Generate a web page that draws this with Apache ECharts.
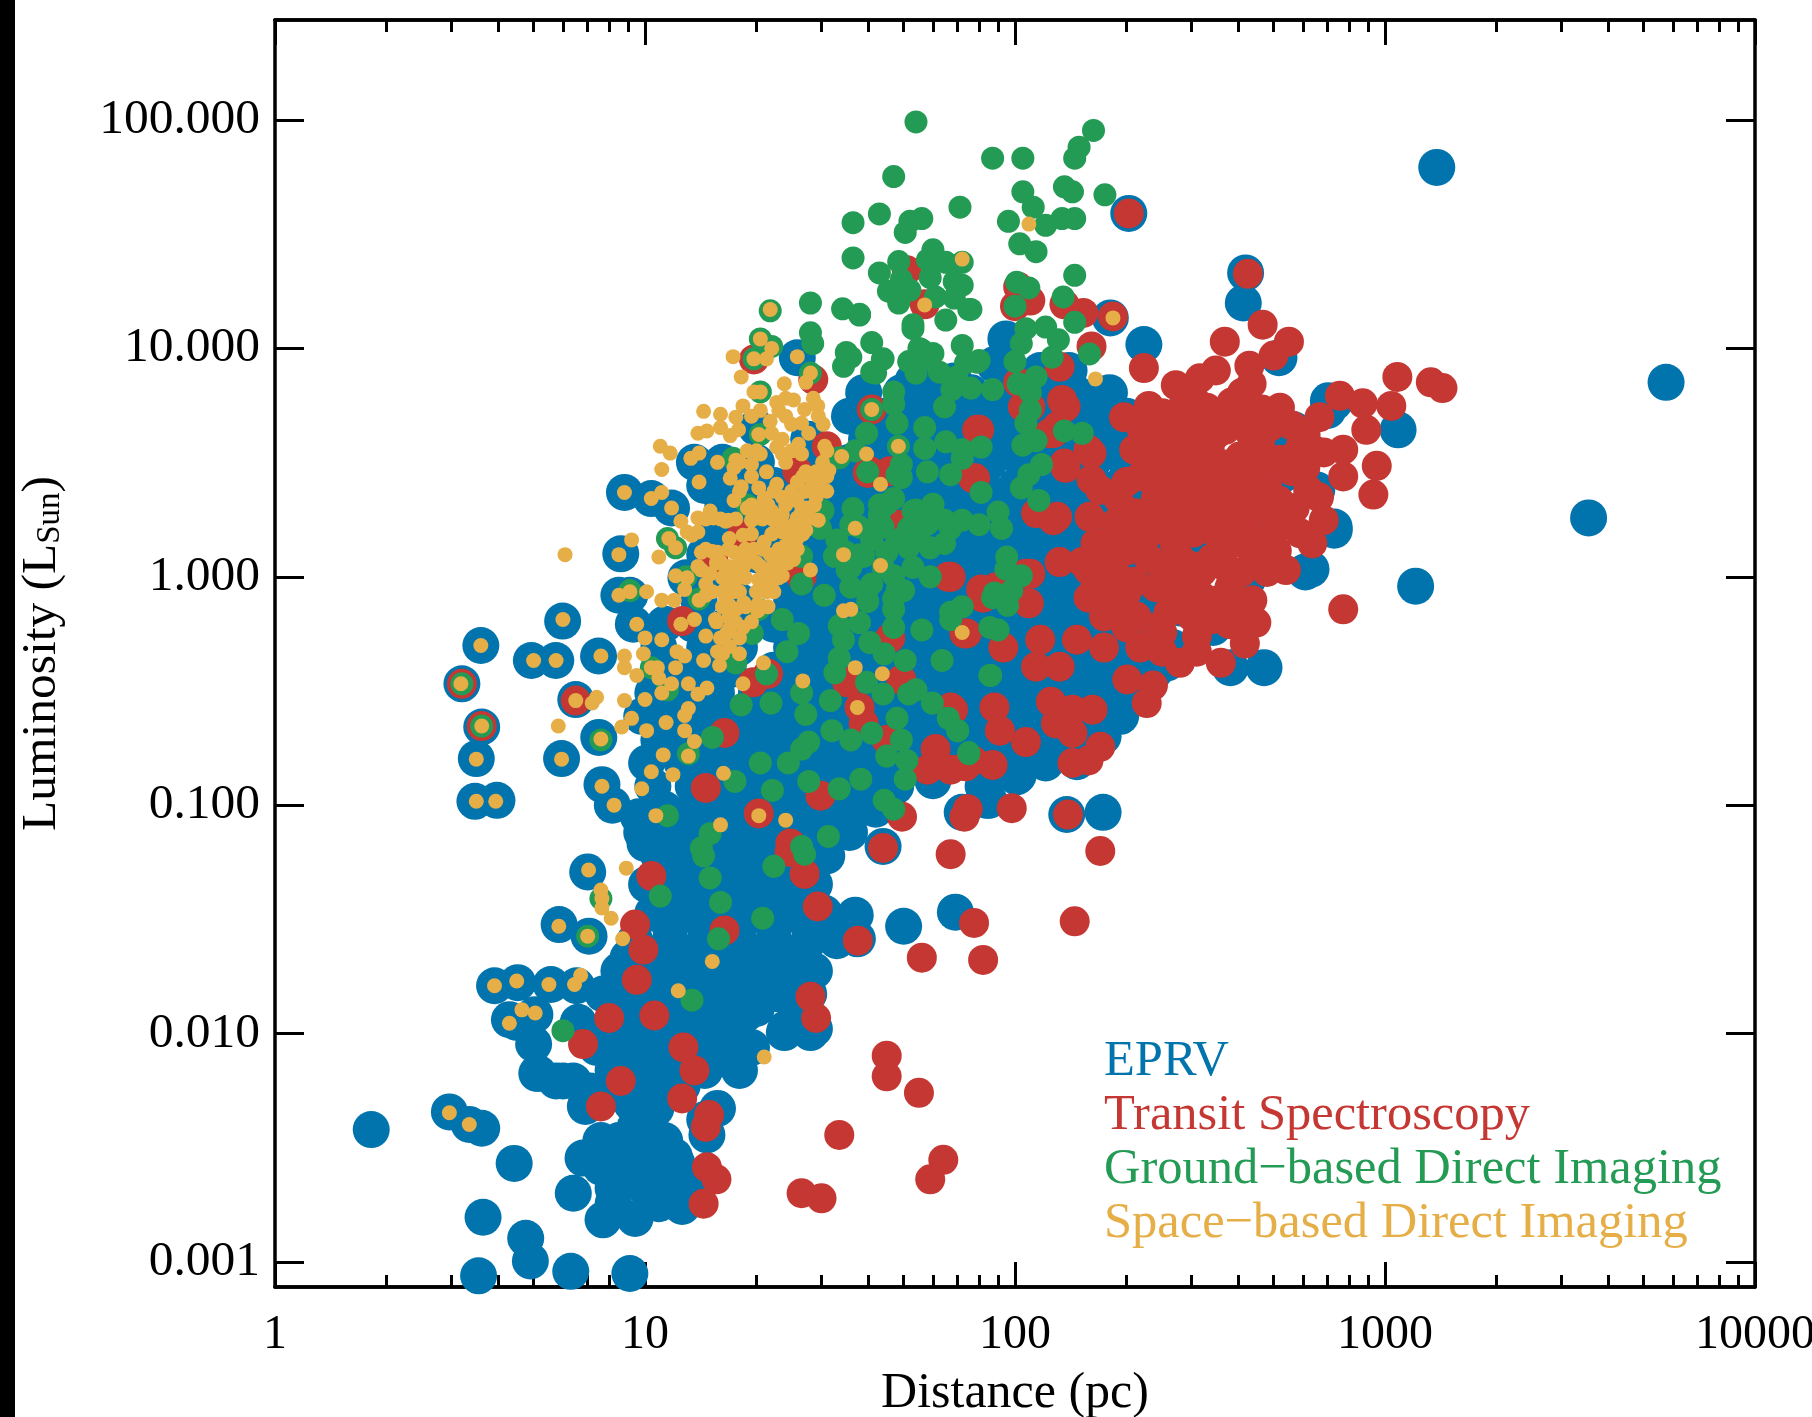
<!DOCTYPE html>
<html>
<head>
<meta charset="utf-8">
<title>Luminosity vs distance</title>
<script src="https://cdn.jsdelivr.net/npm/echarts@6/dist/echarts.min.js"></script>
<style>
  html, body { margin: 0; padding: 0; background: #fff; }
  #chart { width: 1812px; height: 1417px; }
</style>
</head>
<body>
<div id="chart"></div>
<script>
const xMajorTicks = [1, 10, 100, 1000, 10000]
const xMinorTicks = [2, 3, 4, 5, 6, 7, 8, 9, 20, 30, 40, 50, 60, 70, 80, 90, 200, 300, 400, 500, 600, 700, 800, 900, 2000, 3000, 4000, 5000, 6000, 7000, 8000, 9000]
const yMajorTicks = [0.001, 0.01, 0.1, 1, 10, 100]

// [distance pc, luminosity Lsun]
const eprvOutliers = [[1380,62],[5750,7.1],[3550,1.81],[1210,.91],[471,.40],[1085,4.4],[700,5.35],[729,5.8],[517,9.1],[414,15.8],[420,21.4],[203,39],[223,10.4],[181,13.6],[173,.093],[138,.091],[729,1.6],[631,1.08],[426,.98]]
const eprvNearby = [[1.82,.0038],[2.96,.00454],[3.35,.004],[3.62,.00385],[4.43,.0027],[3.65,.00157],[4.76,.00127],[4.9,.00101],[3.55,.00087],[3.75,.00073],[6.3,.00091],[9.1,.00089],
  [3.6,.50],[4.93,.43],[5.74,.43],[5.99,.64],[7.49,.45],[3.2,.34],[3.62,.22],[3.5,.16],[3.47,.104],[3.98,.105],[5.95,.16],[6.5,.29],[7.5,.198],[7.65,.123],[8.16,.10],[8.8,2.34],[8.6,1.26],[8.5,.83],[9.3,.62],[9.1,.83],[9.6,.089],[7.0,.051],[5.86,.03],[7.06,.0267],[3.92,.0162],[4.53,.0167],[5.57,.0164],[6.53,.0162],[4.3,.0115],[5.04,.0121],[5.15,.0067],[6.0,.0062],[10.4,2.2],[11.8,2.0]]
const eprvLow = [[6.8,.00285],[6.4,.002],[7.7,.00153],[9.4,.00155],[11,.0019],[12.6,.00175],[12,.0029],[9.7,.0022],[8.6,.0029],[9.2,.0033],[6.9,.0048],[9.2,.00495],[10.7,.0047],[15.7,.0047],[14.5,.0042],[14.7,.0036],[9.4,.0039],[5.1,.0067],[5.75,.0062],[5,.009],[6.4,.0062],[18.2,.0084],[23.8,.0101],[28,.0101],[18.7,.0122],
  [8.2,.0021],[10.9,.0021],[13,.0021],[9.8,.0027],[12.2,.0027],[8.5,.0034],[10.1,.0034],[7.1,.0056],[9.8,.0056],[11.2,.0056],[8.2,.0069],[10.1,.0069],[12.6,.0069],[14.5,.0069],[18,.0069],
  [7.4,.0087],[9,.0087],[10.9,.0087],[13.5,.0087],[16.8,.0087],[19.4,.0087],[4.5,.0112],[6.6,.0112],[8.2,.0112],[10.1,.0112],[12.6,.0112],[15.6,.0112],[24,.0105],[28.7,.0105],
  [7.7,.0149],[9.4,.0149],[11.7,.0149],[14.5,.0149],[18,.0149],[23,.0149],[27.7,.0149],[8.5,.0188],[10.1,.0188],[12.6,.0188],[15.6,.0188],[19.4,.0188],[24,.0188],[28.7,.0188],
  [9.4,.0255],[11.7,.0255],[14.5,.0255],[18,.0255],[22.3,.0255],[27.7,.0255],[33,.0255],[37.5,.026],[10.5,.0337],[13,.0337],[16.2,.0337],[20,.0337],[24.9,.0337],[30.5,.0337],[37,.033],[50,.0295],[69,.034],
  [10.1,.045],[12.6,.045],[15.6,.045],[19.4,.045],[24,.045],[28.7,.045],[10.9,.06],[13.5,.06],[16.8,.06],[20.8,.06],[25.8,.06],[31,.06],[44,.066]]
const eprvBand = [[11.3,.053],[14,.053],[17.4,.053],[21.5,.053],[26.7,.053],[11.3,.039],[14,.039],[17.4,.039],[21.5,.039],[26.7,.039],[11.7,.0295],[14.5,.0295],[18,.0295],[22.3,.0295],[27.7,.0295],
  [9,.0215],[11.3,.0215],[14,.0215],[17.4,.0215],[21.5,.0215],[26.7,.0215],[9.1,.0167],[11.3,.0167],[14,.0167],[17.4,.0167],[21.5,.0167],[26.7,.0167],[8.5,.0129],[10.5,.0129],[13,.0129],[16.2,.0129],[20,.0129],[25.8,.0129],
  [7.4,.0099],[9,.0099],[11.3,.0099],[14,.0099],[17.4,.0099],[8.5,.0078],[10.1,.0078],[12.2,.0078],[15,.0078],[8.2,.0059],[10.5,.0059],[12.6,.0059],[7.6,.0034],[11.3,.0034],[7.6,.0026],[10.9,.0026],[8.2,.0018],[10.9,.0018],
  [10,.068],[12.2,.068],[15,.068],[18.7,.068],[23,.068],[28.7,.068],[12.6,.09],[16.2,.09],[20,.09],[24.9,.09],[31,.09]]
const eprvCore = [[39,6.4],[49.3,6.4],[61,6.4],[76,6.4],[94.5,6.4],[117,6.4],[180,6.4],[53,7.2],[68.5,7.2],[88,8.5],[94.5,11],[117,8],[140,8],[121,6.4],[145,6.4],[174,5.9],[25.8,9.1],[20,4.5],
  [35.7,5.05],[44.3,5.05],[55,5.05],[68.5,5.05],[85,5.05],[105,5.05],[130,5.05],[162,5.05],[200,5.05],
  [27.7,4],[39.7,4],[49.3,4],[61,4],[76,4],[94.5,4],[117,4],[145,4],[180,4],[215,4],
  [13.6,3.17],[16.2,3.17],[20,3.17],[26.7,3.17],[35.7,3.17],[44.3,3.17],[55,3.17],[68.5,3.17],[85,3.17],[105,3.17],[130,3.17],[162,3.17],[200,3.17],[249,3.17],
  [14.5,2.51],[18,2.51],[22.3,2.51],[27.7,2.51],[34.4,2.51],[42.7,2.51],[53,2.51],[66,2.51],[82,2.51],[101,2.51],[126,2.51],[156,2.51],[193,2.51],
  [16.2,1.99],[20,1.99],[24.9,1.99],[31,1.99],[38.3,1.99],[47.6,1.99],[59,1.99],[73.5,1.99],[91,1.99],[113,1.99],[140,1.99],[174,1.99],[215,1.99],
  [15.6,1.57],[18,1.57],[22.3,1.57],[27.7,1.57],[34.4,1.57],[42.7,1.57],[53,1.57],[66,1.57],[82,1.57],[101,1.57],[126,1.57],[156,1.57],[193,1.57],
  [14.5,1.25],[20,1.25],[24.9,1.25],[31,1.25],[38.3,1.25],[47.6,1.25],[59,1.25],[73.5,1.25],[91,1.25],[113,1.25],[140,1.25],[174,1.25],[215,1.25],[267,1.25],
  [12.9,.99],[16.2,.99],[22.3,.99],[27.7,.99],[34.4,.99],[42.7,.99],[53,.99],[66,.99],[82,.99],[101,.99],[126,.99],[156,.99],[193,.99],[240,.99],
  [14,.78],[18,.78],[24.9,.78],[31,.78],[38.3,.78],[47.6,.78],[59,.78],[73.5,.78],[91,.78],[113,.78],[140,.78],[174,.78],[215,.78],[267,.78],
  [11.3,.62],[13.5,.62],[16.8,.62],[22.3,.62],[27.7,.62],[34.4,.62],[42.7,.62],[53,.62],[66,.62],[82,.62],[101,.62],[126,.62],[156,.62],[193,.62],[240,.62],
  [10.9,.49],[14.5,.49],[18,.49],[24.9,.49],[31,.49],[38.3,.49],[47.6,.49],[59,.49],[73.5,.49],[91,.49],[113,.49],[140,.49],[174,.49],[215,.49],[267,.49],
  [11.3,.39],[13.5,.39],[16.8,.39],[22.3,.39],[27.7,.39],[34.4,.39],[42.7,.39],[53,.39],[66,.39],[82,.39],[101,.39],[126,.39],[156,.39],[193,.39],[240,.39],
  [10.5,.31],[12.6,.31],[15.6,.31],[20,.31],[24.9,.31],[31,.31],[38.3,.31],[47.6,.31],[59,.31],[73.5,.31],[91,.31],[113,.31],[140,.31],[174,.31],[215,.31],
  [9.8,.245],[11.7,.245],[14.5,.245],[18,.245],[22.3,.245],[27.7,.245],[34.4,.245],[42.7,.245],[53,.245],[66,.245],[82,.245],[101,.245],[126,.245],[156,.245],[193,.245],
  [10.9,.193],[13.5,.193],[16.2,.193],[20,.193],[24.9,.193],[31,.193],[38.3,.193],[47.6,.193],[59,.193],[73.5,.193],[91,.193],[113,.193],[140,.193],[168,.193],
  [10.1,.153],[12.6,.153],[15.6,.153],[18,.153],[22.3,.153],[27.7,.153],[34.4,.153],[42.7,.153],[53,.153],[66,.153],[82,.153],[101,.153],[121,.153],
  [10.5,.121],[13.5,.121],[16.8,.121],[20,.121],[24.9,.121],[31,.121],[38.3,.121],[47.6,.121],[60,.128],[82,.121],[101,.133],
  [11.3,.096],[14.5,.096],[18,.096],[22.3,.096],[27.7,.096],[34.4,.096],[42,.096],[72,.093],[84,.105],
  [9.8,.076],[12.2,.076],[15,.076],[18.7,.076],[23,.076],[28.7,.076],[35.7,.076]]
const eprvUnderRed = [[258,4.1],[320,3.4],[491,3.4],[382,2.6],[528,2.8],[729,1.65],[609,1.05],[426,.98],[279,.73],[187,.29],[343,.6],[369,.7],[240,.7],[297,.9],[457,1.5],[320,1.4],[258,1],[240,1.4],[654,2.4],[369,2.5],[277,2.2],[703,5.9],[567,4.4],[258,.42],[382,.4],[215,.32],[147,.155],[113,.165],[102,.135],[85,.105],[173,.2],[161,.25],[126,.21]]

const transitField = [[1080,7.5],[1330,7.1],[1430,6.7],[771,.72],[930,2.29],[950,3.06],[1040,5.6],[890,4.4],[871,5.75],[755,6.2],[665,5],[683,3.5],[520,5.5],[465,5.4],[467,12.7],[550,10.7],[500,9.3],[369,10.7],[430,8.4],[411,6.4],[272,6.9],[349,8],[316,7.4],[436,7],[223,8.2],[203,39],[426,21.2],
  [771,3.6],[771,2.75],[595,3.86],[520,3.25],[609,3],[663,2.23],[683,1.77],[636,1.4],[540,1.07],[478,1.22],
  [197,5],[247,4.9],[210,3.6],[263,3.7],[218,2.75],[272,2.85],[343,5],[405,4.9],[491,4.55],[405,3.36],[336,3.7],[343,2.85],[426,2.48],[517,2.16],[336,2.16],[263,2.1],[416,1.77],[491,1.56],[387,1.4],[304,1.56],[369,1.11],[304,1.11],[252,1.11],[213,1.45],[189,1.49],[159,1.83],[130,1.83],[114,1.9],[132,1.16],[152,1.16],[182,1.03],[158,3.6],[161,2.66],[136,3.13],
  [158,1.07],[187,1.03],[158,.81],[174,.67],[213,.67],[279,.79],[354,.79],[438,.79],[449,.63],[418,.51],[360,.42],[279,.42],[218,.49],[174,.49],[147,.53],[201,.355],[236,.334],[227,.28],[162,.262],[143,.262],[125,.284],[129,.228],[143,.207],[170,.18],[158,.157],[143,.153],[107,.189],[91,.212],[87,.15],[73.5,.148],[88,.268],[73,.089],[98,.097],[139,.091],[117,.53],[93,.49],[132,.404],[114,.404],[73,.565],[109,.765],[107,1.03],[82,.81],[91,.9],[127,1.77],[137,3],[77,2.7],[79,4.4],[127,4.25],[137,5.55],[105,5.55],[67,1.0],[68,.262],[170,.063],[67,.061],
  [237,4.1],[290,4.2],[350,4.2],[300,3.3],[240,3.3],[460,3.9],[460,2.7],[380,2.1],[300,2.5],[250,2.4],[230,1.9],[270,1.4],[340,1.2],[430,1.4],[290,.9],[240,.9],[210,.95],[340,.65],[390,.7],[250,.57],[310,.55],[200,.6],
  [230,5.6],[250,5.2],[280,5.4],[305,6],[330,5.5],[385,5.8],[220,4.4],[270,4.6],[310,4.4],[370,4.4],[430,4.3],[250,3.6],[290,3.1],[320,3.5],[370,3.1],[440,3.2],[230,2.9],[260,2.6],[310,2.9],[350,2.4],[400,2.7],[480,2.5],[240,2.2],[290,2],[330,1.85],[370,1.75],[450,2],[210,1.9],[230,1.55],[260,1.75],[290,1.6],[350,1.55],[400,1.55],[440,1.25],[200,1.3],[230,1.2],[280,1.2],[320,1.05],[410,1.05],[200,.85],[260,.95],[320,.82],[380,.9],[410,.6],[300,.67],[260,.7],[190,.72],[240,.6],[310,.47],[380,.62],[250,.47],
  [170,2.4],[190,2.2],[185,1.7],[165,1.4],[175,1.2],[195,.85],[165,.9],[180,.75],[200,2.6],[205,1.7],
  [560,4.6],[610,4.2],[580,3.5],[640,3.6],[560,2.9],[620,2.4],[570,2],[540,1.7],[590,1.55],[500,1.9],[510,1.3],[480,1.05]]
const transitLow = [[49.5,.089],[44,.065],[77.5,.0305],[82,.021],[145,.031],[56,.0215],[45,.008],[45,.0065],[55,.0055],[33.5,.0036],[64,.0028],[59,.0023],[26.5,.002],[30,.0019],[14.7,.0026],[15.6,.0023],[14.4,.0018],[14.9,.0044],[14.6,.0039],[12.6,.0052],[13.6,.0069],[12.7,.0087],[10.6,.012],[8,.0117],[6.8,.009],[7.6,.0048],[8.6,.0062],[9.5,.0172],[9.9,.0233],[9.4,.03],[10.4,.049],[16.4,.0283],[28,.0145],[29,.0117],[29.3,.036],[27,.05],[24.6,.0625],[37.6,.0255]]
const transitMid = [[102,18.6],[110,16.2],[100,15.3],[136,15.6],[153,14.3],[184,13.8],[161,10.2],[132,8.3],[102,7.1],[134,5.95],[110,5.55],[130,4.55],[124,4.25],[161,3.47],[51,22],[57,15.6],[47.6,1.65],[110,1.03],[89,.9],[81,.88],[18.3,1.52],[15.3,1.19],[12.6,.64],[6.5,.287],[3.2,.34],[3.62,.222],[16.4,.207],[19.6,.345],[21.5,.376],[29.8,.11],[14.6,.119],[20.3,.092],[38,.268],[39,.228],[67,.268],[45,.193],[49.3,.354],[35.2,.345],[74.5,.096],[61,.176],[67,.143],[58,.143],[77,.157],[24.7,.068],[26.5,1],[25.8,2.9],[31,3.73],[40.5,2.9],[45.9,2.9],[48,1.69],[80,4.4],[78,2.7],[66,1],[74,.565],[46,.54],[19.7,8.95],[41,5.4],[40,2.85],[28.5,7.3]]

const groundHigh = [[132,280],[54,98],[163,90],[149,76],[145,68],[87,68],[105,68],[47,56.5],[136,51],[143,48.5],[175,47],[105,48.5],[112,41.5],[71,41.5],[43,38.8],[36.5,35.5],[56,37],[52,36],[50.5,32.2],[96,36],[121,34.6],[134,37],[145,37],[103,28.7],[114,26.5],[36.5,24.9],[48.5,24],[43,21.4],[60,27],[58,24.4],[65,23.8],[72,23.8],[49.3,20],[59,20.4],[45.5,17.8],[52,18],[48.5,15.8],[61,16.8],[68.5,19.6],[72,18.9],[68.5,16.6],[75,14.8],[65,13.3],[53,12.2],[38,14],[145,20.9],[101,19.5],[109,18.4],[100,15.3],[135,16.8],[145,13],[107,12.2],[121,12.4],[104,10.5],[131,10.9],[126,9.15],[100,8.75],[159,9.45],[102,7],[114,7.5],[110,6.4],[110,5.35],[107,4.7],[114,3.95],[105,3.77],[136,4.35],[152,4.25],[118,3.1],[109,2.8],[104,2.45],[116,2.16],
  [41,10.6],[55,10],[60,9.5],[72,10.3],[80,8.85],[43.8,8.95],[36,9.15],[41,7.87],[51.6,8.75],[54,7.8],[62.5,7.87],[73.5,8.65],[69.5,7.5],[67.5,6.6],[76,6.7],[87,6.6],[47,6.45],[47,5.7],[64.5,5.55]]
const groundMid = [[48,4.7],[57,4.5],[39.7,4.25],[65,3.9],[57,3.65],[72,3.6],[81,3.7],[49.3,3.1],[49.3,2.72],[58,2.88],[67,2.8],[72,3.3],[81,2.34],[47,2.2],[43,2.06],[36.5,1.99],[54,1.96],[60,2.06],[72,1.77],[80,1.69],[64.5,1.77],[90,1.92],[92,1.63],[44,1.65],[51.5,1.63],[38,1.65],[64.5,1.4],[51.5,1.34],[59,1.34],[45,1.28],[38,1.25],[95,1.22],[94.5,1.08],[104,1.01],[59,1],[47,1.01],[41,.93],[50,.87],[88,.85],[98,.87],
  [90,.585],[86,.37],[75,.17],[70,.212],[87,.81],[95.5,.75],[72,.74],[67,.7],
  [28,15.8],[34.2,14.9],[38,14.1],[28,11.7],[28.4,10.5],[35,9.6],[34.4,8.35],[44,9],[42,7.8],[53,12.7],[76,14.8],[55.8,9.9],[58,9],[79,8.7],[37,3.56],[33.5,3.32],[40,2.88],[48,2.8],[30.3,1.95],[45,2.08],[43,1.87],[60,2.08],[53,1.94],[29.8,1.63],[36,1.69],[42.7,1.69],[67,1.63],[35,1.28],[39,1.23],[26.5,1.23],[32.5,1.23],[35.2,1.07],[26.5,.93],[30.5,.83],[39.7,.86],[48,.87],[47,.72],[67,.65],[23.5,.65],[26,.565],[33.5,.61],[38,.63],[47,.6],[56,.585],[85.5,.6],[24.2,.47],[34.4,.53],[40.5,.515],[33.5,.44],[44.3,.46],[50.5,.43],[32.6,.38],[63.5,.43],[85.5,.37],
  [41,1.45],[48,1.45],[55,1.5],[36,1.1],[44,1.1],[53,1.1],[40,.78],[47,.8],[36,.9],[58,1.7],[33,1.45]]
const groundLow = [[17.6,.42],[21.3,.376],[39.7,.345],[54,.32],[26.5,.31],[31.7,.287],[44,.307],[51.6,.307],[59.8,.28],[18.2,.275],[21.9,.28],[27.2,.25],[66,.24],[48,.24],[41,.207],[32,.212],[36,.193],[49.3,.193],[70,.212],[27.7,.189],[26.5,.176],[15.2,.198],[75,.168],[45,.164],[51,.157],[20.5,.153],[24.4,.153],[50.5,.13],[17.5,.127],[27.7,.127],[38.3,.13],[33.5,.118],[22.1,.116],[44.3,.105],[47,.096],[11.5,.09],[15,.075],[31.3,.073],[26.5,.066],[14.2,.065],[14.4,.06],[15,.048],[22.3,.054],[11,.04],[27,.061],[16,.0375],[20.8,.032],[15.8,.026],[6,.0103],[13.4,.014],[7.6,.039],[7,.0267],
  [21.8,14.6],[20.5,11],[22,10.2],[19.7,9],[20.5,6.45],[28,7.8],[3.2,.34],[3.62,.222],[11.5,1.47],[12.1,1.34],[13.1,.168],[7.6,.193],[9.1,.87],[10.4,.4],[11.5,.32],[12.9,1],[14,.8],[17.3,3.3],[18.9,2.06],[20.3,1.87],[20.3,.72],[19.5,.565],[20.5,4.2],[41,5.4],[48.4,3.73]]

const spaceUpper = [[21.8,14.8],[20.5,11],[22,10],[21.3,9],[19.7,9],[17.3,9.2],[18.2,7.5],[25.8,9.2],[28,7.8],[27.2,7.1],[23.8,7],[19.7,6.45],[20.5,6.45],[22.7,5.8],[23,5.35],[25.2,5.95],[27,5.4],[29.3,5.6],[18.4,5.6],[20.5,5.35],[14.4,5.3],[16,5.15],[17.6,5],[16,4.5],[14.7,4.35],[13.9,4.25],[17,4.15],[17.9,4.4],[20.3,4.2],[21.8,4.8],[23.5,4],[24.9,4.65],[26.5,4.7],[26,3.8],[30.3,4.65],[30.6,3.73],[34,3.36],[39.7,3.45],[41,5.4],[48.4,3.73],[43.3,2.54],[11,3.73],[11.7,3.48],[11.1,2.95],[13.3,3.3],[14,3.48],[15.7,3.17],[14,2.6],[8.8,2.34],[10.4,2.2],[11.1,2.34],[11.8,2],[12.5,1.75],[13,1.57],[13.9,1.57],[13.4,1.52],[17,2.7],[17.6,3.24],[18.9,3.56],[20.5,3.45],[22.7,3.7],[17.4,3],[19.4,3.1],[21.3,2.88],[23.5,3.45],[26.5,3.45],[27.2,2.88],[29,2.88],[31.4,2.92],[29.8,2.7],[25.8,2.6],[22.7,2.54],[18.2,2.48],[20.3,2.45],[27.2,2.37],[29.3,2.37],[17.4,2.16],[18.9,2],[21,2.2],[25.6,2.16],[27.2,2],[20.5,1.94],[22,1.94],[15,1.94],[14.6,1.79],[16,1.79],[17.6,1.79],[23.5,1.87],[25.8,1.81],[28,1.81],[20.8,1.79],[24.7,1.6],[27.2,1.6],[23.5,1.57]]
const spaceMiddle = [[16.9,1.47],[18.4,1.52],[21,1.42],[25.2,1.47],[11.6,1.47],[12.1,1.34],[9.2,1.45],[8.5,1.25],[6.08,1.25],[10.9,1.22],[14.6,1.32],[15.2,1.29],[16,1.16],[17.4,1.28],[18.9,1.25],[19.7,1.32],[21.8,1.25],[24,1.32],[25.2,1.19],[14.2,1.07],[16.5,1.03],[17.6,1.07],[20.5,1.11],[22.7,1.07],[28,1.07],[12.1,1.01],[13,.99],[12.8,.88],[14.6,.93],[16.9,.89],[21.3,.93],[23.5,1.01],[15.2,.86],[17.3,.86],[11.1,.79],[12,.79],[14,.79],[10.1,.86],[9.1,.86],[8.5,.83],[16.9,.75],[18.5,.77],[20.2,.76],[17.6,.72],[20.2,.71],[15.5,.65],[13.6,.65],[12.5,.62],[9.5,.62],[16.9,.66],[18.4,.6],[16.6,.565],[14.6,.55],[6,.65],[3.6,.5],[11.1,.53],[10,.54],[16.9,.495],[12.2,.47],[12.8,.45],[15.7,.47],[9.9,.46],[8.8,.45],[7.6,.45],[5,.43],[5.75,.43],[8.8,.4],[10.4,.4],[10.8,.4],[12.1,.4],[14.4,.43],[15.9,.41],[9.5,.37],[10.9,.36],[18.4,.34],[20.9,.42],[26.7,.35],[3.18,.34],[13.1,.34],[11.8,.34],[14.7,.326],[11.1,.31],[13.9,.306],[6.5,.287],[7.4,.297],[7.2,.28],[8.8,.287],[10,.29]]
const spaceDense = [[25.8,2.23],[26.5,1.94],[25.2,1.69],[24,1.57],[25.8,1.47],[27.2,1.81],[24,1.37],[22.9,1.28],[24.7,1.19],[22.3,1.15],[21.3,1.03],[22.3,.97],[20.3,.97],[21.3,.86],[18.5,1.11],[17.6,.97],[16.9,1.11],[16.5,.8],[16.9,.67],[17.6,.63],[16.9,.59],[28.4,2.6],[29,2.23],[23.5,2.23],[21.3,1.94],[19.9,2],[15.3,1.81],[13.9,1.81],[16.5,1.75],[14.2,1.28],[15.7,1.28],[13.9,1.11],[15,1.03],[14.6,.83],[23.5,1.69],
  [24,6.05],[28.5,6.05],[19.4,5.05],[24,5.05],[29.4,5.05],[22,4.25],[27.7,4.25],[20,3.56],[24.9,3.56],[31,3.56],[18,3.17],[24,3.17],[30.2,3.17],[19.4,2.75],[26.7,2.75],[31,2.75],[18,2.37],[22.3,2.37],[24.9,2.37],[31,2.37],[19.4,2.06],[21.5,2.06],[24,2.06],[28.7,2.06],[16.8,1.77],[19.4,1.77],[22.3,1.77],[29.4,1.77],[19.4,1.54],[22,1.54],[26.7,1.54],[16.8,1.32],[18.7,1.32],[20.8,1.32],[23,1.32],[25.8,1.32],[15.6,1.15],[18,1.15],[20,1.15],[22.7,1.15],[24.3,1.15],[16.2,.99],[18.7,.99],[20.8,.99],[23,.99],[16.2,.86],[18,.86],[20,.86],[22.3,.86],[16.2,.74],[18.7,.74],[21.5,.74],[15.6,.635],[17.4,.635],[19.4,.635],[16,.54],[18,.54],[16.2,.46],[18,.46]]
const spaceLower = [[37.5,.268],[43.8,.376],[37,.4],[34.4,1.25],[43.3,1.12],[37,1.63],[72,.57],[34.4,.71],[36,.72],[13.1,.265],[12.8,.247],[9.2,.24],[8.65,.22],[3.62,.222],[5.83,.222],[11.4,.23],[10.1,.212],[12.8,.212],[13.6,.19],[7.6,.195],[13.1,.164],[3.5,.159],[5.95,.159],[11.2,.166],[10.4,.14],[11.9,.136],[16.3,.138],[7.65,.121],[9.8,.118],[3.5,.104],[3.95,.104],[8.25,.1],[10.7,.09],[16,.082],[20.3,.09],[24,.086],
  [7.04,.052],[8.9,.053],[7.6,.0425],[7.65,.039],[7.65,.0355],[8.1,.032],[5.85,.0295],[7,.0267],[8.7,.026],[15.2,.0207],[6.7,.018],[3.92,.0162],[4.5,.017],[5.5,.0164],[6.45,.0164],[12.3,.0154],[4.65,.0127],[5.05,.0123],[4.3,.0111],[21,.0079],[2.96,.0045],[3.35,.004],
  [165,7.35],[109,35],[72,24.6],[57,15.5],[184,13.6]]

const eprvPoints = [].concat(eprvUnderRed, eprvCore, eprvBand, eprvLow, eprvNearby, eprvOutliers)
const transitPoints = [].concat(transitField, transitLow, transitMid)
const groundPoints = [].concat(groundHigh, groundMid, groundLow)
const spacePoints = [].concat(spaceUpper, spaceMiddle, spaceDense, spaceLower)

const seriesNames = ['EPRV', 'Transit Spectroscopy', 'Ground\u2212based Direct Imaging', 'Space\u2212based Direct Imaging']
const seriesColors = ['#0174ae', '#c53733', '#239b54', '#e6ae46']

const FONT = '"Liberation Serif", "Times New Roman", serif'
const INK = '#000'

// y axes run past the labelled decades, matching the frame of the plot
const Y_MIN = 0.000777
const Y_MAX = 274

function scatter (index, points, size) {
  return {
    name: seriesNames[index],
    type: 'scatter',
    data: points,
    symbolSize: size,
    clip: true,
    itemStyle: { color: seriesColors[index], opacity: 1 },
    emphasis: { disabled: true },
    z: 2 + index
  }
}

function frameAxis (position, ticks, tickLength, extra) {
  return Object.assign({
    type: 'log',
    logBase: 10,
    position,
    axisLine: { show: true, onZero: false, lineStyle: { color: INK, width: 3.5 } },
    axisTick: { show: true, inside: true, length: tickLength, customValues: ticks, lineStyle: { color: INK, width: 3 } },
    axisLabel: { show: false },
    splitLine: { show: false },
    minorTick: { show: false },
    minorSplitLine: { show: false }
  }, extra)
}

const xRange = { min: 1, max: 10000 }
const yRange = { min: Y_MIN, max: Y_MAX }

const option = {
  animation: false,
  backgroundColor: '#fff',
  textStyle: { fontFamily: FONT },
  graphic: [{ type: 'rect', left: 0, top: 0, shape: { width: 15, height: 1417 }, style: { fill: '#000' }, z: 100 }],
  grid: { left: 275, right: 57, top: 20, bottom: 130, containLabel: false, outerBoundsMode: 'none' },
  legend: {
    left: 1094,
    top: 1031,
    orient: 'vertical',
    icon: 'none',
    itemWidth: 0,
    itemHeight: 0,
    itemGap: 3,
    selectedMode: false,
    data: seriesNames.map((name, i) => ({ name, textStyle: { color: seriesColors[i], fontSize: 50.5, fontFamily: FONT } }))
  },
  xAxis: [
    frameAxis('bottom', xMajorTicks, 25, Object.assign({
      name: 'Distance (pc)',
      nameLocation: 'middle',
      nameGap: 82,
      nameTextStyle: { color: INK, fontSize: 50, fontFamily: FONT },
      axisLabel: { show: true, customValues: xMajorTicks, color: INK, fontSize: 48, fontFamily: FONT, margin: 24, hideOverlap: false, showMinLabel: true, showMaxLabel: true, formatter: v => String(v) }
    }, xRange)),
    frameAxis('bottom', xMinorTicks, 12, xRange),
    frameAxis('top', xMajorTicks, 25, xRange),
    frameAxis('top', xMinorTicks, 12, xRange)
  ],
  yAxis: [
    frameAxis('left', yMajorTicks, 29, Object.assign({
      name: '{a|Luminosity (L}{b|Sun}{a|)}',
      nameLocation: 'middle',
      nameGap: 208,
      nameTextStyle: {
        color: INK,
        rich: {
          a: { fontSize: 49.5, fontFamily: FONT, color: INK },
          b: { fontSize: 33, fontFamily: FONT, color: INK, verticalAlign: 'bottom', padding: [16, 0, 0, 0] }
        }
      },
      axisLabel: { show: true, customValues: yMajorTicks, color: INK, fontSize: 49.5, fontFamily: FONT, margin: 15, hideOverlap: false, formatter: v => Number(v).toFixed(3) }
    }, yRange)),
    frameAxis('right', yMajorTicks, 29, yRange)
  ],
  series: [
    scatter(0, eprvPoints, 37),
    scatter(1, transitPoints, 30),
    scatter(2, groundPoints, 23),
    scatter(3, spacePoints, 15)
  ]
}

const chart = echarts.init(document.getElementById('chart'), null, { renderer: 'canvas' })
chart.setOption(option)
</script>
</body>
</html>
